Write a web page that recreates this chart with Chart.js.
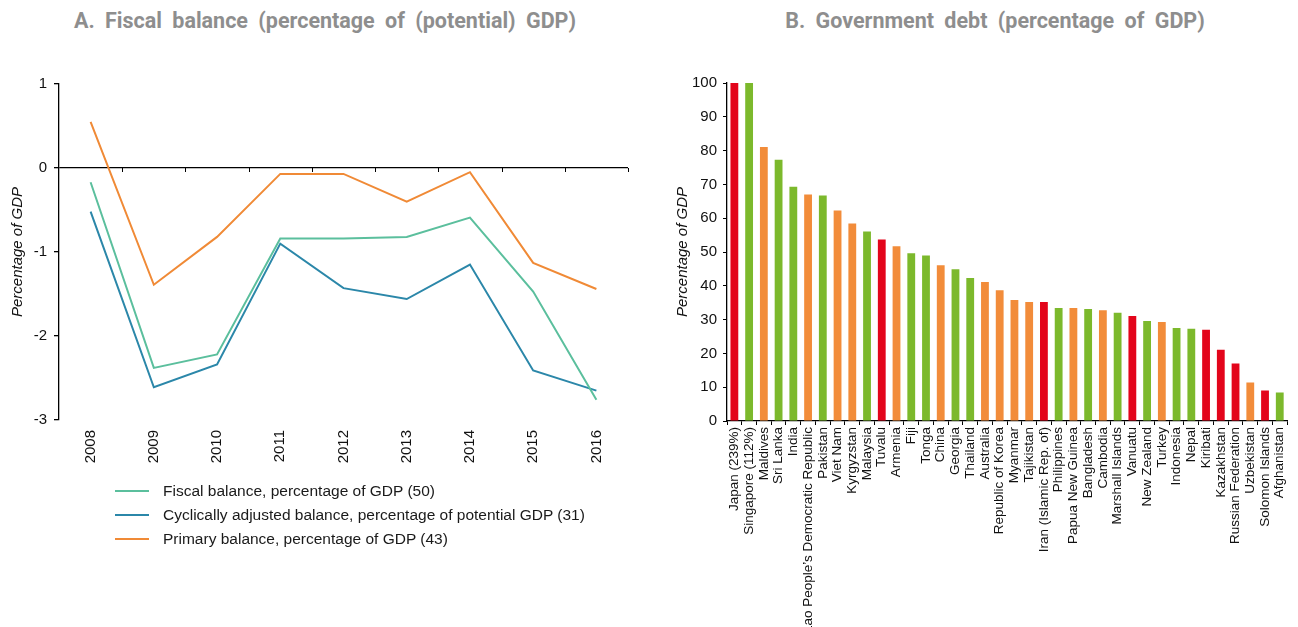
<!DOCTYPE html>
<html lang="en">
<head>
    <meta charset="UTF-8">
    <title>Fiscal balance and government debt</title>
    <script src="https://cdn.jsdelivr.net/npm/chart.js@4.4.0/dist/chart.umd.min.js"></script>
    <style>
        html, body {
            margin: 0;
            padding: 0;
            background: #ffffff;
            width: 1298px;
            height: 627px;
            overflow: hidden;
            position: relative;
            font-family: 'Liberation Sans', Arial, sans-serif;
        }
        .panel-title {
            position: absolute;
            top: 8px;
            font-family: Roboto, sans-serif;
            font-weight: 700;
            font-size: 21.5px;
            word-spacing: 5px;
            color: #8e8e8e;
            text-align: center;
            white-space: nowrap;
        }
        #titleA { left: 0; width: 650px; }
        #titleB { left: 660px; width: 670px; }
        .chart-box { position: absolute; }
        #boxA { left: 0; top: 60px; width: 650px; height: 420px; }
        #boxB { left: 660px; top: 60px; width: 638px; height: 600px; }
        .legend {
            position: absolute;
            left: 115px;
            top: 479px;
            font-size: 15.5px;
            color: #1a1a1a;
        }
        .legend-row {
            height: 24px;
            display: flex;
            align-items: center;
        }
        .legend-line {
            width: 34px;
            height: 2px;
            margin-right: 14px;
        }
    </style>
</head>
<body>
    <div class="panel-title" id="titleA">A. Fiscal balance (percentage of (potential) GDP)</div>
    <div class="panel-title" id="titleB">B. Government debt (percentage of GDP)</div>

    <div class="chart-box" id="boxA"><canvas id="balanceChart"></canvas></div>
    <div class="chart-box" id="boxB"><canvas id="debtChart"></canvas></div>

    <div class="legend" id="legendA"></div>

    <script>
        // Panel A - fiscal balances, % of GDP
        const years = ['2008', '2009', '2010', '2011', '2012', '2013', '2014', '2015', '2016'];
        const fiscalBalance = [-0.17, -2.38, -2.22, -0.84, -0.84, -0.82, -0.59, -1.47, -2.76];
        const cyclicalBalance = [-0.52, -2.61, -2.34, -0.90, -1.43, -1.56, -1.15, -2.41, -2.65];
        const primaryBalance = [0.55, -1.39, -0.82, -0.07, -0.07, -0.40, -0.05, -1.13, -1.44];
        const balanceNames = [
            'Fiscal balance, percentage of GDP (50)',
            'Cyclically adjusted balance, percentage of potential GDP (31)',
            'Primary balance, percentage of GDP (43)'
        ];
        const balanceTicks = [1, 0, -1, -2, -3];

        // Panel B - government debt, % of GDP (Japan and Singapore run off the scale)
        const countries = [
            'Japan (239%)', 'Singapore (112%)', 'Maldives', 'Sri Lanka', 'India',
            'Lao People\u2019s Democratic Republic', 'Pakistan', 'Viet Nam', 'Kyrgyzstan', 'Malaysia',
            'Tuvalu', 'Armenia', 'Fiji', 'Tonga', 'China', 'Georgia', 'Thailand', 'Australia',
            'Republic of Korea', 'Myanmar', 'Tajikistan', 'Iran (Islamic Rep. of)', 'Philippines',
            'Papua New Guinea', 'Bangladesh', 'Cambodia', 'Marshall Islands', 'Vanuatu',
            'New Zealand', 'Turkey', 'Indonesia', 'Nepal', 'Kiribati', 'Kazakhstan',
            'Russian Federation', 'Uzbekistan', 'Solomon Islands', 'Afghanistan'
        ];
        const debt = [
            239, 112, 81.1, 77.3, 69.3, 67.0, 66.7, 62.3, 58.4, 56.1,
            53.7, 51.7, 49.6, 49.0, 46.1, 44.9, 42.3, 41.1, 38.7, 35.8,
            35.2, 35.2, 33.4, 33.4, 33.1, 32.8, 32.0, 31.1, 29.6, 29.3,
            27.5, 27.3, 27.0, 21.1, 17.0, 11.4, 9.0, 8.4
        ];
        // r / g / o colour group of each bar
        const debtGroup = [
            'r', 'g', 'o', 'g', 'g', 'o', 'g', 'o', 'o', 'g',
            'r', 'o', 'g', 'g', 'o', 'g', 'g', 'o', 'o', 'o',
            'o', 'r', 'g', 'o', 'g', 'o', 'g', 'r', 'g', 'o',
            'g', 'g', 'r', 'r', 'r', 'o', 'r', 'g'
        ];

        const lineColors = ['#5bbf9d', '#2b87a9', '#f08a36'];
        const groupColors = { r: '#e3051b', g: '#7cb92c', o: '#f28c3a' };
        const tickFont = { family: "'Liberation Sans', Arial, sans-serif", size: 15 };
        const axisTitleFont = { family: "'Liberation Sans', Arial, sans-serif", size: 15, style: 'italic' };

        // legend for panel A
        const legendA = document.getElementById('legendA');
        balanceNames.forEach(function(name, i) {
            const row = document.createElement('div');
            row.className = 'legend-row';
            const line = document.createElement('span');
            line.className = 'legend-line';
            line.style.background = lineColors[i];
            const label = document.createElement('span');
            label.textContent = name;
            row.appendChild(line);
            row.appendChild(label);
            legendA.appendChild(row);
        });

        // little tick marks along the zero line of panel A
        const zeroTicks = {
            id: 'zeroTicks',
            beforeDatasetsDraw(chart) {
                const x = chart.scales.x, y = chart.scales.y;
                const y0 = y.getPixelForValue(0);
                const ctx = chart.ctx;
                ctx.save();
                ctx.strokeStyle = '#000';
                ctx.lineWidth = 1;
                for (let i = 0; i < years.length; i++) {
                    const next = i < years.length - 1 ? x.getPixelForValue(i + 1) : x.right + (x.right - x.getPixelForValue(i));
                    const bx = Math.round((x.getPixelForValue(i) + next) / 2) + 0.5;
                    ctx.beginPath();
                    ctx.moveTo(bx, y0);
                    ctx.lineTo(bx, y0 + 4);
                    ctx.stroke();
                }
                ctx.restore();
            }
        };

        new Chart(document.getElementById('balanceChart'), {
            type: 'line',
            data: {
                labels: years,
                datasets: [fiscalBalance, cyclicalBalance, primaryBalance].map(function(vals, i) {
                    return {
                        label: balanceNames[i],
                        data: vals,
                        borderColor: lineColors[i],
                        backgroundColor: lineColors[i],
                        borderWidth: 2,
                        pointRadius: 0,
                        tension: 0,
                        fill: false
                    };
                })
            },
            options: {
                responsive: true,
                maintainAspectRatio: false,
                animation: false,
                layout: { padding: { top: 24, right: 22, left: 0, bottom: 0 } },
                plugins: { legend: { display: false }, tooltip: { enabled: false } },
                scales: {
                    x: {
                        offset: true,
                        grid: { display: false, drawTicks: false },
                        border: { display: false },
                        ticks: { font: tickFont, color: '#111', minRotation: 90, maxRotation: 90, padding: 10 },
                        afterFit: function(s) { s.height = 60; }
                    },
                    y: {
                        min: -3,
                        max: 1,
                        afterBuildTicks: function(s) {
                            s.ticks = balanceTicks.map(function(v) { return { value: v }; });
                        },
                        grid: {
                            color: function(c) { return c.tick && c.tick.value === 0 ? '#000' : 'rgba(0,0,0,0)'; },
                            lineWidth: 1.3,
                            tickColor: '#000',
                            tickLength: 5
                        },
                        border: { display: true, color: '#000', width: 1.3 },
                        ticks: { font: tickFont, color: '#111', padding: 7 },
                        title: { display: true, text: 'Percentage of GDP', font: axisTitleFont, color: '#111', padding: { top: 9, bottom: 0 } },
                        afterFit: function(s) { s.width = 59; }
                    }
                }
            },
            plugins: [zeroTicks]
        });

        new Chart(document.getElementById('debtChart'), {
            type: 'bar',
            data: {
                labels: countries,
                datasets: [{
                    label: 'Government debt',
                    data: debt,
                    backgroundColor: debtGroup.map(function(g) { return groupColors[g]; }),
                    categoryPercentage: 1,
                    barPercentage: 0.53,
                    clip: { left: 0, top: 0, right: 0, bottom: 0 }
                }]
            },
            options: {
                responsive: true,
                maintainAspectRatio: false,
                animation: false,
                layout: { padding: { top: 23, right: 3, left: 0, bottom: 0 } },
                plugins: { legend: { display: false }, tooltip: { enabled: false } },
                scales: {
                    x: {
                        grid: { display: true, drawOnChartArea: false, drawTicks: true, tickLength: 4, color: '#000' },
                        border: { display: true, color: '#000', width: 1.3 },
                        ticks: {
                            font: { family: "'Liberation Sans', Arial, sans-serif", size: 13.5 },
                            color: '#111', minRotation: 90, maxRotation: 90, padding: 2, autoSkip: false
                        },
                        afterFit: function(s) { s.height = 239; }
                    },
                    y: {
                        min: 0,
                        max: 100,
                        ticks: { stepSize: 10, font: tickFont, color: '#111', padding: 6 },
                        grid: { display: true, drawOnChartArea: false, tickLength: 4, color: '#000' },
                        border: { display: true, color: '#000', width: 1.3 },
                        title: { display: true, text: 'Percentage of GDP', font: axisTitleFont, color: '#111', padding: { top: 14, bottom: 0 } },
                        afterFit: function(s) { s.width = 67; }
                    }
                }
            }
        });
    </script>
</body>
</html>
